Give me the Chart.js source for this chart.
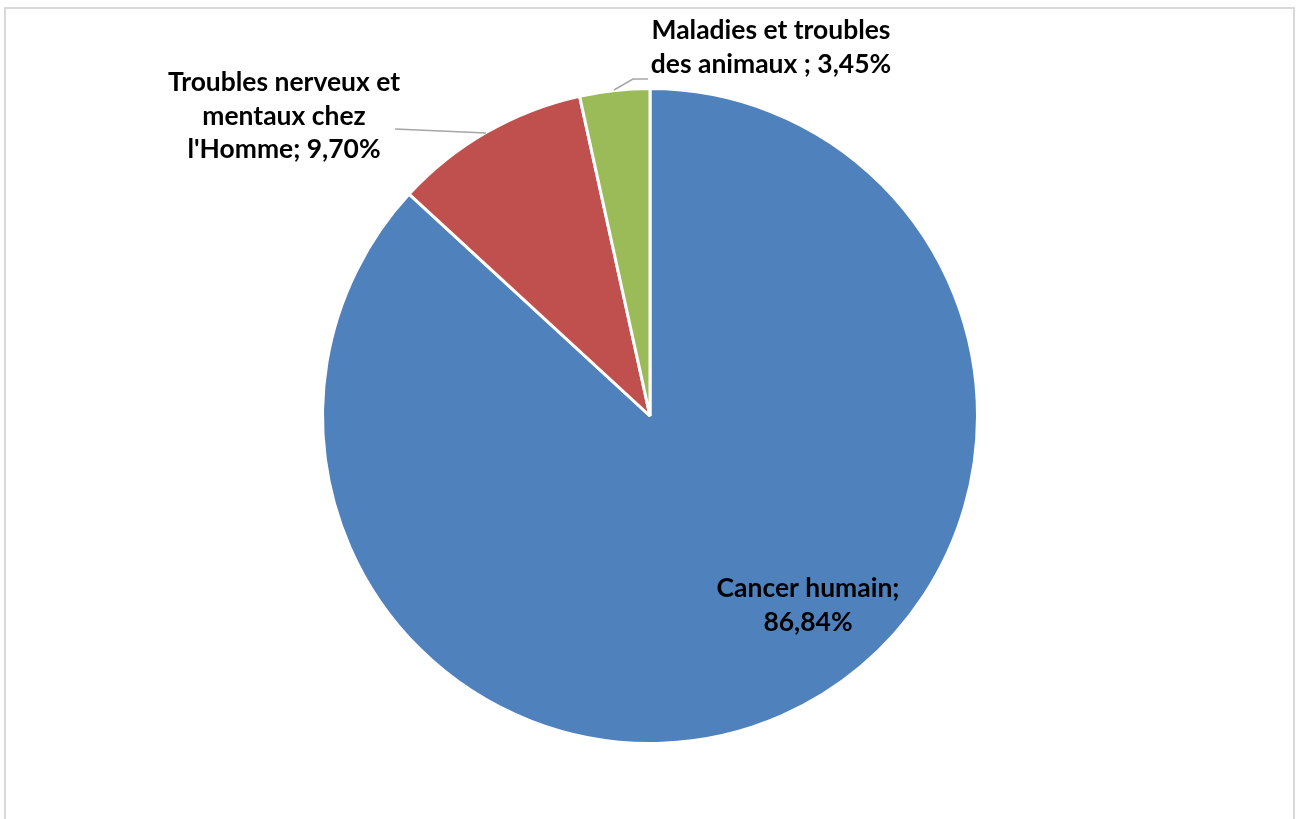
<!DOCTYPE html>
<html>
<head>
<meta charset="utf-8">
<script src="https://cdn.jsdelivr.net/npm/chart.js@4"></script>
<style>
html,body{margin:0;padding:0;background:#fff;}
#wrap{position:relative;width:1297px;height:819px;}
</style>
</head>
<body>
<div id="wrap"><canvas id="c" width="1297" height="819"></canvas></div>
<script>
const categories = ["Cancer humain", "Troubles nerveux et mentaux chez l'Homme", "Maladies et troubles des animaux"];
const values = [86.84, 9.70, 3.45];
const valueLabels = ["86,84%", "9,70%", "3,45%"];
const colors = ["#4F81BD", "#C0504D", "#9BBB59"];

const labelLayout = [
  {lines: ["Cancer humain;", "86,84%"], x: 808, y: 597},
  {lines: ["Troubles nerveux et", "mentaux chez", "l'Homme; 9,70%"], x: 284, y: 91, leader: [[395,129],[486,133]]},
  {lines: ["Maladies et troubles", "des animaux ; 3,45%"], x: 771, y: 39, leader: [[614,90],[633,79],[648,79]]}
];

const frame = {
  id: 'frame',
  beforeDraw(chart) {
    const ctx = chart.ctx;
    ctx.save();
    ctx.strokeStyle = '#d9d9d9';
    ctx.lineWidth = 2;
    ctx.beginPath();
    ctx.moveTo(5, 819);
    ctx.lineTo(5, 8);
    ctx.lineTo(1294, 8);
    ctx.lineTo(1294, 819);
    ctx.stroke();
    ctx.restore();
  }
};

const labels = {
  id: 'labels',
  afterDraw(chart) {
    const ctx = chart.ctx;
    ctx.save();
    ctx.strokeStyle = '#a6a6a6';
    ctx.lineWidth = 1.5;
    labelLayout.forEach(l => {
      if (!l.leader) return;
      ctx.beginPath();
      ctx.moveTo(l.leader[0][0], l.leader[0][1]);
      for (let i = 1; i < l.leader.length; i++) ctx.lineTo(l.leader[i][0], l.leader[i][1]);
      ctx.stroke();
    });
    ctx.font = 'bold 20px Lato';
    const w = ctx.measureText("Troubles nerveux et").width;
    const size = 20 * 232 / w;
    ctx.font = 'bold ' + size.toFixed(2) + 'px Lato';
    ctx.fillStyle = '#000';
    ctx.textAlign = 'center';
    ctx.textBaseline = 'alphabetic';
    labelLayout.forEach(l => {
      l.lines.forEach((t, i) => ctx.fillText(t, l.x, l.y + i * 33.5));
    });
    ctx.restore();
  }
};

new Chart(document.getElementById('c'), {
  type: 'pie',
  data: {
    labels: categories,
    datasets: [{
      data: values,
      backgroundColor: colors,
      borderColor: '#ffffff',
      borderWidth: 3
    }]
  },
  options: {
    responsive: false,
    animation: false,
    layout: {padding: {left: 3, right: 0, top: 87, bottom: 74}},
    plugins: {legend: {display: false}, tooltip: {enabled: false}}
  },
  plugins: [frame, labels]
});
</script>
</body>
</html>
